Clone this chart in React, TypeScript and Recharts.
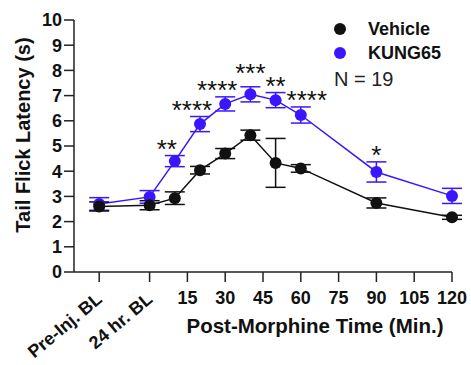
import {
  ComposedChart,
  Line,
  XAxis,
  YAxis,
  ErrorBar,
  LabelList,
  Legend,
} from "recharts";

const FONT = "Arial, 'Liberation Sans', Helvetica, sans-serif";
const BLUE = "#3a16ff";
const BLACK = "#111111";
const PX_PER_UNIT = 25.2; // plot height 252px over 0..10

// minutes relative to morphine; baselines sit left of zero
const times = [-20, 0, 10, 20, 30, 40, 50, 60, 90, 120];
const vehicle = [2.6, 2.65, 2.93, 4.04, 4.7, 5.43, 4.33, 4.11, 2.74, 2.17];
const vehicleErr = [0.18, 0.18, 0.25, 0.15, 0.2, 0.2, 0.97, 0.15, 0.2, 0.08];
const kung65 = [2.7, 2.98, 4.4, 5.87, 6.67, 7.05, 6.82, 6.23, 3.97, 3.02];
const kung65Err = [0.25, 0.25, 0.22, 0.3, 0.28, 0.3, 0.3, 0.32, 0.4, 0.3];
const significance = ["", "", "**", "****", "****", "***", "**", "****", "*", ""];

const xTicks = [-20, 0, 15, 30, 45, 60, 75, 90, 105, 120];
const xTickLabels = ["Pre-Inj. BL", "24 hr. BL", "15", "30", "45", "60", "75", "90", "105", "120"];
const yTicks = [0, 1, 2, 3, 4, 5, 6, 7, 8, 9, 10];

const data = times.map((t, i) => ({
  t,
  vehicle: vehicle[i],
  vehicleErr: vehicleErr[i],
  kung65: kung65[i],
  kung65Err: kung65Err[i],
  sig: significance[i],
}));

function XTick(props: any) {
  const { x, y, payload } = props;
  const idx = xTicks.indexOf(payload.value);
  const label = xTickLabels[idx] ?? String(payload.value);
  if (payload.value <= 0) {
    const ax = x + 4;
    const ay = y + 17;
    return (
      <text
        x={ax}
        y={ay}
        transform={`rotate(-40 ${ax} ${ay})`}
        textAnchor="end"
        fontFamily={FONT}
        fontWeight="bold"
        fontSize={18}
        fill="#111"
      >
        {label}
      </text>
    );
  }
  return (
    <text x={x} y={y + 19.5} textAnchor="middle" fontFamily={FONT} fontWeight="bold" fontSize={18} fill="#111">
      {label}
    </text>
  );
}

// stars sit above the KUNG65 error bar, nudged off the rising/falling line
function Stars(props: any) {
  const { x, y, value, index } = props;
  if (!value) return null;
  const prev = kung65[index - 1] ?? kung65[index];
  const next = kung65[index + 1] ?? kung65[index];
  const cur = kung65[index];
  let dx = 0;
  if (next > cur && prev < cur) dx = -8;
  else if (next < cur && prev > cur && value.length > 2) dx = 6;
  const top = y - kung65Err[index] * PX_PER_UNIT;
  const center = top - (prev < cur && next < cur ? 19 : 12);
  return (
    <text x={x + dx} y={center + 14} textAnchor="middle" fontFamily={FONT} fontSize={26} fill="#111">
      {value}
    </text>
  );
}

function LegendBox() {
  return (
    <svg width={140} height={80}>
      <circle cx={10} cy={14} r={6} fill={BLACK} />
      <text x={38} y={20} fontFamily={FONT} fontWeight="bold" fontSize={18} fill="#111">
        Vehicle
      </text>
      <circle cx={10} cy={38} r={6} fill={BLUE} />
      <text x={38} y={44} fontFamily={FONT} fontWeight="bold" fontSize={18} fill="#111">
        KUNG65
      </text>
      <text x={4} y={71} fontFamily={FONT} fontSize={20} fill="#222">
        N = 19
      </text>
    </svg>
  );
}

export default function App() {
  return (
    <div style={{ position: "absolute", left: 0, top: 0, width: 471, height: 365, background: "#fff" }}>
      <ComposedChart width={471} height={365} data={data} margin={{ top: 20, right: 19, bottom: 33, left: 0 }}>
        <XAxis
          dataKey="t"
          type="number"
          domain={[-30, 120]}
          ticks={xTicks}
          interval={0}
          tick={<XTick />}
          tickSize={10}
          height={60}
          stroke="#222"
          strokeWidth={1.5}
          label={{
            content: () => (
              <text x={315} y={333} textAnchor="middle" fontFamily={FONT} fontWeight="bold" fontSize={20.5} fill="#111">
                Post-Morphine Time (Min.)
              </text>
            ),
          }}
        />
        <YAxis
          type="number"
          domain={[0, 10]}
          ticks={yTicks}
          interval={0}
          width={74}
          tickSize={10}
          stroke="#222"
          strokeWidth={1.5}
          tick={{ fontFamily: FONT, fontWeight: "bold", fontSize: 18, fill: "#111" }}
          label={{
            content: () => (
              <text
                x={23}
                y={135}
                transform="rotate(-90 23 135)"
                textAnchor="middle"
                dominantBaseline="central"
                fontFamily={FONT}
                fontWeight="bold"
                fontSize={20}
                fill="#111"
              >
                Tail Flick Latency (s)
              </text>
            ),
          }}
        />
        <Legend
          layout="vertical"
          align="center"
          verticalAlign="middle"
          content={<LegendBox />}
          wrapperStyle={{ position: "absolute", left: 330, top: 15, width: 140, height: 80 }}
        />
        <Line
          dataKey="kung65"
          stroke={BLUE}
          strokeWidth={1.5}
          dot={{ r: 6, fill: BLUE, stroke: BLUE, strokeWidth: 0 }}
          isAnimationActive={false}
        >
          <ErrorBar dataKey="kung65Err" direction="y" width={10} stroke={BLUE} strokeWidth={1.5} />
          <LabelList dataKey="sig" content={<Stars />} />
        </Line>
        <Line
          dataKey="vehicle"
          stroke={BLACK}
          strokeWidth={1.5}
          dot={{ r: 6, fill: BLACK, stroke: BLACK, strokeWidth: 0 }}
          isAnimationActive={false}
        >
          <ErrorBar dataKey="vehicleErr" direction="y" width={10} stroke={BLACK} strokeWidth={1.5} />
        </Line>
      </ComposedChart>
    </div>
  );
}
